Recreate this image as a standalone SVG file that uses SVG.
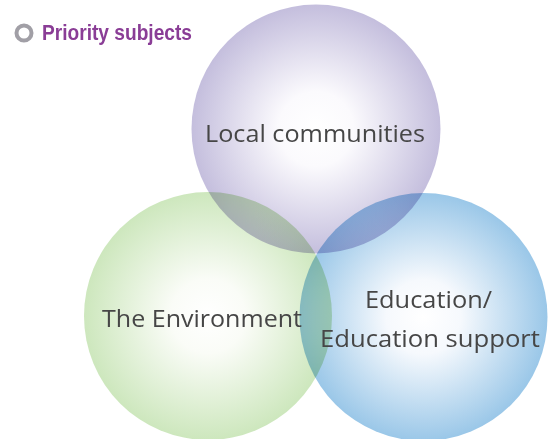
<svg xmlns="http://www.w3.org/2000/svg" width="549" height="439" viewBox="0 0 549 439">
<style>
.lbl{font-family:"Open Sans","Noto Sans","DejaVu Sans",sans-serif;font-size:24px;fill:#464646;text-anchor:middle}
.blend{mix-blend-mode:multiply}
</style>
<defs>
<radialGradient id="gP" cx="0.5" cy="0.5" r="0.5">
<stop offset="0" stop-color="#ffffff"/>
<stop offset="0.3" stop-color="#fbfafd"/>
<stop offset="1" stop-color="#c4bedd"/>
</radialGradient>
<radialGradient id="gG" cx="0.5" cy="0.5" r="0.5">
<stop offset="0" stop-color="#ffffff"/>
<stop offset="0.3" stop-color="#fafcf7"/>
<stop offset="1" stop-color="#cde7bd"/>
</radialGradient>
<radialGradient id="gB" cx="0.5" cy="0.5" r="0.5">
<stop offset="0" stop-color="#ffffff"/>
<stop offset="0.3" stop-color="#f6f9fd"/>
<stop offset="1" stop-color="#9ac7e8"/>
</radialGradient>
</defs>
<rect width="549" height="439" fill="#ffffff"/>
<g id="title">
<circle cx="24" cy="33" r="7.5" fill="none" stroke="#a19fa6" stroke-width="4"/>
<text x="42" y="40" font-family="'Liberation Sans','Open Sans',sans-serif" font-size="22" font-weight="bold" fill="#8a3d96" textLength="150" lengthAdjust="spacingAndGlyphs">Priority subjects</text>
</g>
<g id="local-communities">
<circle class="blend" cx="316" cy="129" r="124.5" fill="url(#gP)"/>
</g>
<g id="environment">
<circle class="blend" cx="208" cy="316" r="124" fill="url(#gG)"/>
</g>
<g id="education">
<circle class="blend" cx="423.5" cy="317" r="124" fill="url(#gB)"/>
</g>
<g id="labels">
<text class="lbl" x="315" y="142" textLength="220" lengthAdjust="spacingAndGlyphs">Local communities</text>
<text class="lbl" x="202" y="327" textLength="200" lengthAdjust="spacingAndGlyphs">The Environment</text>
<text class="lbl" x="428.5" y="308" textLength="127" lengthAdjust="spacingAndGlyphs">Education/</text>
<text class="lbl" x="430" y="347" textLength="220" lengthAdjust="spacingAndGlyphs">Education support</text>
</g>
<g id="connectors"/>
</svg>
